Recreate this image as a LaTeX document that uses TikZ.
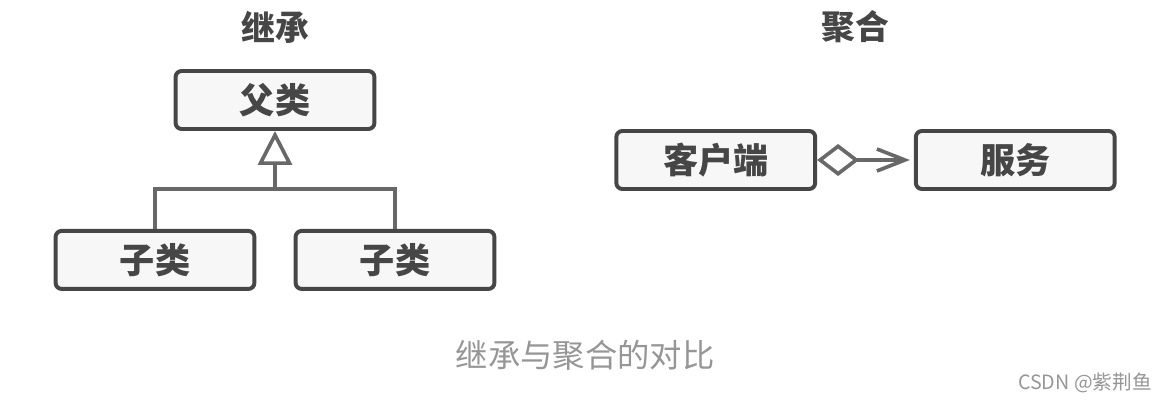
\documentclass[tikz,border=0pt]{standalone}
\usepackage{fontspec}
\newfontfamily\cjk{Noto Sans CJK SC}
\usepackage{tikz}
\usetikzlibrary{arrows.meta, positioning}
\usepackage{xcolor}
\definecolor{boxline}{RGB}{70, 70, 70}
\definecolor{boxfill}{RGB}{247, 247, 247}
\definecolor{linkgray}{RGB}{104, 104, 104}
\definecolor{capgray}{RGB}{150, 150, 150}
\tikzstyle{cls} = [rectangle, rounded corners=0.15cm, minimum width=4.97cm, minimum height=1.45cm, text centered, draw=boxline, line width=2.8pt, fill=boxfill, text=boxline, font=\cjk\bfseries\fontsize{25}{29}\selectfont]
\tikzstyle{title} = [text=boxline, font=\cjk\bfseries\fontsize{24}{28}\selectfont]
\tikzstyle{link} = [line width=2.6pt, draw=linkgray]

\begin{document}
\begin{tikzpicture}
    \useasboundingbox (0,0) rectangle (29.15,-10.025);
    % Inheritance
    \node (parent) [cls] at (6.875,-2.5) {父类};
    \node (kidl) [cls, below=2.45cm of parent, xshift=-3cm] {子类};
    \node (kidr) [cls, below=2.45cm of parent, xshift=3cm] {子类};
    \coordinate (joint) at (6.875,-4.725);

    % Aggregation
    \node (client) [cls, right=5.95cm of parent, yshift=-1.5cm] {客户端};
    \node (server) [cls, right=2.42cm of client] {服务};

    % Titles
    \node (tinherit) [title] at (6.875,-0.675) {继承};
    \node (taggr) [title] at (21.375,-0.675) {聚合};
    \node (caption) [text=capgray, font=\cjk\fontsize{23}{27}\selectfont] at (14.625,-8.875) {继承与聚合的对比};
    \node (mark) [text=capgray, font=\cjk\fontsize{14}{17}\selectfont] at (27.125,-9.575) {CSDN @紫荆鱼};

    % Connectors
    \draw [link] (kidl.north) |- (joint);
    \draw [link] (kidr.north) |- (joint);
    \draw [link, -{Triangle[open, length=0.85cm, width=0.85cm, fill=white]}] (joint) -- (parent.south);
    \draw [link, {Diamond[open, length=1.05cm, width=0.8cm, fill=white]}-{Straight Barb[length=0.7cm, width=0.55cm]}, shorten >=0.1cm] (client) -- (server);

\end{tikzpicture}
\end{document}
